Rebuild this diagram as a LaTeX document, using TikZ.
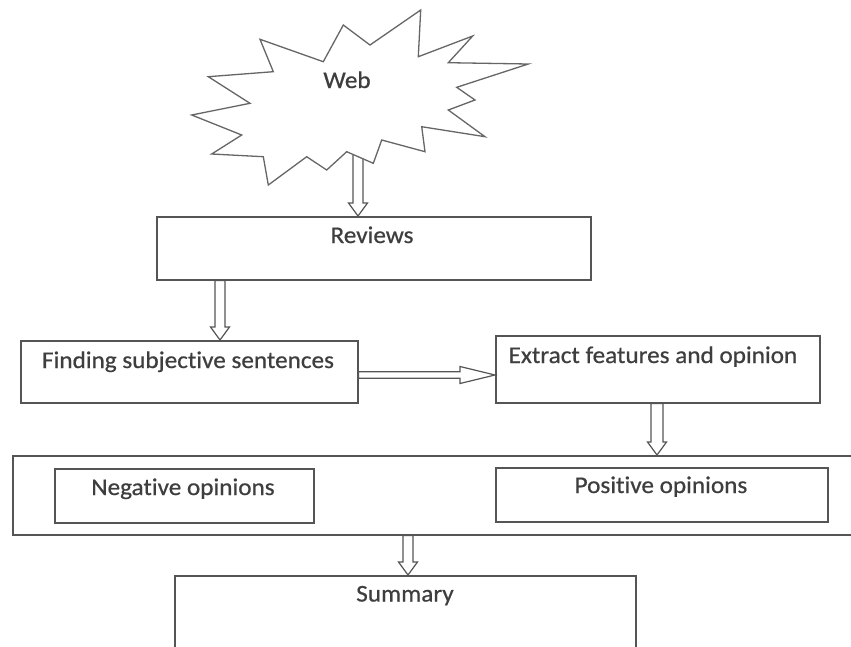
\documentclass[tikz,border=0pt]{standalone}
\usepackage{fontspec}
\setmainfont{Carlito}[Ligatures={NoCommon}, FakeStretch=1.05, FakeBold=0.6]
\usetikzlibrary{calc}
\definecolor{ln}{HTML}{555555}
\definecolor{tx}{HTML}{3E3E3E}
\tikzset{
  box/.style={draw=ln, line width=1.5pt, fill=white, rectangle, anchor=north west, inner sep=0pt},
  lbl/.style={anchor=base, text=tx, font=\fontsize{24}{28}\selectfont, inner sep=0pt},
  starln/.style={draw=ln!90, line width=1.3pt, fill=white, line join=miter},
  sw/.code={\def\hsw{#1}}, hw/.code={\def\hhw{#1}}, hl/.code={\def\hhl{#1}},
  hollow/.style={draw=ln, line width=1.2pt, fill=white, line join=miter, sw=5pt, hw=9.5pt, hl=13pt,
    to path={
      ($(\tikztostart)!\hsw!90:(\tikztotarget)$)
      -- ($($(\tikztotarget)!\hhl!(\tikztostart)$)!\hsw!90:(\tikztotarget)$)
      -- ($($(\tikztotarget)!\hhl!(\tikztostart)$)!\hhw!90:(\tikztotarget)$)
      -- (\tikztotarget)
      -- ($($(\tikztotarget)!\hhl!(\tikztostart)$)!\hhw!-90:(\tikztotarget)$)
      -- ($($(\tikztotarget)!\hhl!(\tikztostart)$)!\hsw!-90:(\tikztotarget)$)
      -- ($(\tikztostart)!\hsw!-90:(\tikztotarget)$)
      -- cycle}}
}
\begin{document}
\begin{tikzpicture}[x=1pt, y=-1pt]
\useasboundingbox (0,0) rectangle (851,646);
\clip (0,0) rectangle (851,646);
\fill[white] (0,0) rectangle (851,646);

% boxes
\node[box, minimum width=434pt, minimum height=63pt] (rev) at (156,216) {};
\node[box, minimum width=337pt, minimum height=62pt] (find) at (20,340) {};
\node[box, minimum width=324pt, minimum height=67pt] (ext) at (495,335) {};
\node[box, minimum width=850pt, minimum height=79pt] (big) at (12,455) {};
\node[box, minimum width=259pt, minimum height=54pt] (neg) at (54,468) {};
\node[box, minimum width=332pt, minimum height=54pt] (pos) at (495,467) {};
\node[box, minimum width=461pt, minimum height=95pt] (sum) at (174,575) {};

% arrow endpoints
\coordinate (webout) at (358,148);
\coordinate (revin) at ($(rev.north west)+(202,0)$);
\coordinate (revout) at ($(rev.south west)+(64,0)$);
\coordinate (findin) at ($(find.north west)+(200,0)$);
\coordinate (findout) at ($(find.north east)+(0,35)$);
\coordinate (extin) at ($(ext.north west)+(0,40)$);
\coordinate (extout) at ($(ext.south west)+(162,0)$);
\coordinate (bigin) at ($(big.north west)+(645,0)$);
\coordinate (bigout) at ($(big.south west)+(396,0)$);
\coordinate (sumin) at ($(sum.north west)+(234,0)$);

% arrows
\draw[hollow] (webout) to (revin);
\draw[hollow] (revout) to (findin);
\draw[hollow, sw=3.3pt, hw=8.5pt, hl=35pt] (findout) to (extin);
\draw[hollow, sw=6pt] (extout) to (bigin);
\draw[hollow] (bigout) to (sumin);

% star
\draw[starln] (260,39.3) -- (323.3,61.7) -- (343.3,25) -- (370,45) -- (420.7,10)
  -- (418.3,56.7) -- (472.7,36) -- (448.3,62.7) -- (528.3,64) -- (456.7,87.3)
  -- (475,100) -- (448.3,110) -- (485,136.7) -- (421.7,126.7) -- (425,151.7)
  -- (381.7,140) -- (373.3,163.3) -- (346.7,151.7) -- (326.7,170) -- (306.7,156.7)
  -- (268.3,185) -- (263.3,156.7) -- (211.7,154) -- (241.7,135) -- (191.7,115)
  -- (250,103.3) -- (208.3,76.7) -- (273.3,71.7) -- cycle;

% labels
\node[lbl] (webt) at (347,88) {Web};
\node[lbl] (revt) at (372,243) {Reviews};
\node[lbl] (findt) at (188,368) {Finding subjective sentences};
\node[lbl] (extt) at (653,363) {Extract features and opinion};
\node[lbl] (negt) at (183,495) {Negative opinions};
\node[lbl] (post) at (661,493) {Positive opinions};
\node[lbl] (sumt) at (405,601.5) {Summary};
\end{tikzpicture}
\end{document}
